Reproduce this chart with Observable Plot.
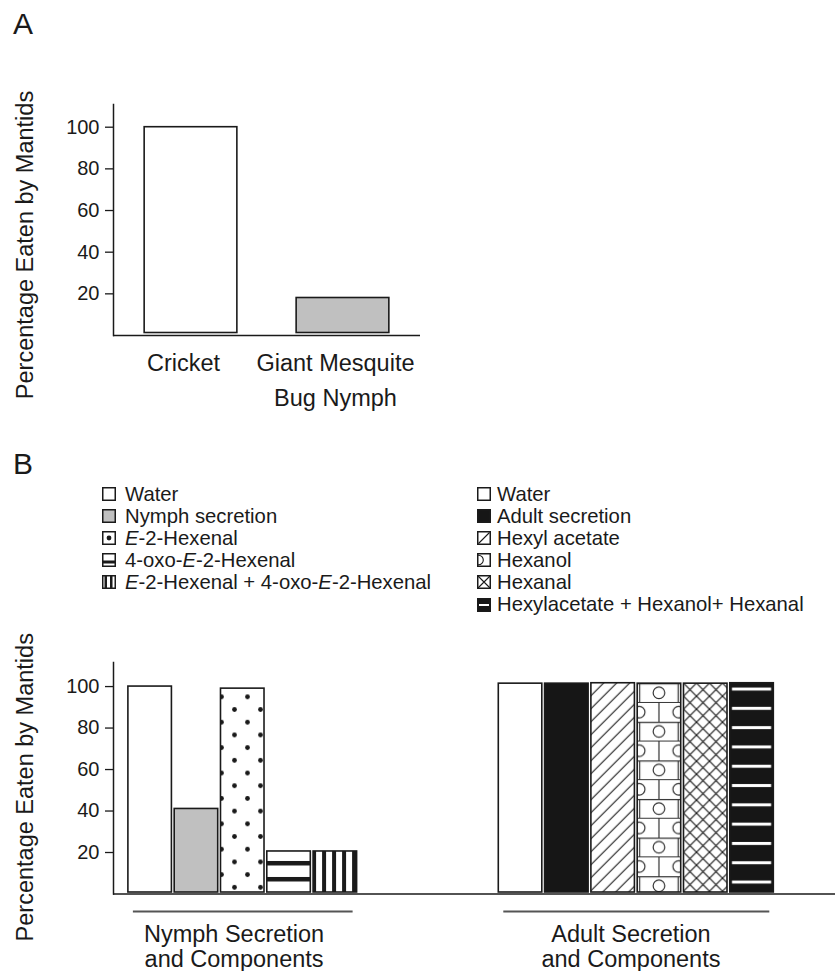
<!DOCTYPE html>
<html><head><meta charset="utf-8">
<script src="https://cdn.jsdelivr.net/npm/d3@7"></script>
<script src="https://cdn.jsdelivr.net/npm/@observablehq/plot@0.6"></script>
<style>
html,body{margin:0;padding:0;background:#fff;}
body{font-family:"Liberation Sans",Arial,Helvetica,sans-serif;color:#1a1a1a;}
#root{position:relative;width:835px;height:971px;overflow:hidden;background:#fff;}
.abs{position:absolute;}
.panel-label{font-size:30px;line-height:30px;}
.legend{font-size:20.3px;line-height:22.1px;}
.legend .row{display:flex;align-items:center;height:22.1px;white-space:nowrap;}
.legend svg{flex:none;display:block;}
</style></head>
<body><div id="root">
<div class="abs" id="chartA" style="left:0;top:0"></div>
<div class="abs" id="chartB" style="left:0;top:600px"></div>
<div class="abs panel-label" style="left:13px;top:9px">A</div>
<div class="abs panel-label" style="left:13px;top:449px">B</div>
<div class="abs legend" id="legendL" style="left:102px;top:482.5px"></div>
<div class="abs legend" id="legendR" style="left:477px;top:483px"></div>
</div>
<script>
// ---------------- data ----------------
const preyA = ["Cricket", "Giant Mesquite Bug Nymph"];
const preyALabels = ["Cricket", "Giant Mesquite\nBug Nymph"];
const eatenA = [100, 18];

const nymphTreatments = ["Water", "Nymph secretion", "E-2-Hexenal", "4-oxo-E-2-Hexenal", "E-2-Hexenal + 4-oxo-E-2-Hexenal"];
const nymphEaten = [100, 41, 99, 20.5, 20.5];
const adultTreatments = ["Water", "Adult secretion", "Hexyl acetate", "Hexanol", "Hexanal", "Hexylacetate + Hexanol+ Hexanal"];
const adultEaten = [101.4, 101.4, 101.6, 101.4, 101.4, 101.6];

const groupLabels = ["Nymph Secretion\nand Components", "Adult Secretion\nand Components"];
const yTicks = [20, 40, 60, 80, 100];
const yLabel = "Percentage Eaten by Mantids";

// ---------------- styles ----------------
const INK = "#1a1a1a";
const FONT = '"Liberation Sans", Arial, Helvetica, sans-serif';
const fillsA = ["#ffffff", "#c0c0c0"];
const nymphFills = ["#ffffff", "#c0c0c0", "url(#pat-dots)", "url(#pat-hbars)", "url(#pat-vbars)"];
const adultFills = ["#ffffff", "#161616", "url(#pat-diag)", "url(#pat-brick)", "url(#pat-cross)", "url(#pat-wlines)"];
const nymphIcons = ["white", "gray", "dot", "hbar", "vbar"];
const adultIcons = ["white", "black", "diag", "brick", "cross", "wline"];

// ---------------- panel A ----------------
const rowsA = preyA.map((p, i) => ({prey: p, label: preyALabels[i], value: eatenA[i], fill: fillsA[i]}));
const labelOfA = new Map(rowsA.map(d => [d.prey, d.label]));

const chartA = Plot.plot({
  width: 425, height: 400,
  marginTop: 104, marginBottom: 65, marginLeft: 113, marginRight: 5,
  style: {fontFamily: FONT, color: INK, background: "transparent", overflow: "visible"},
  x: {domain: preyA, paddingInner: 0.39, paddingOuter: 0.205, round: false},
  y: {domain: [0, 110.9]},
  color: {type: "identity"},
  marks: [
    Plot.barY(rowsA, {x: "prey", y: "value", fill: "fill", stroke: INK, strokeWidth: 1.6, insetBottom: 2.5}),
    Plot.ruleY([0], {stroke: INK, strokeWidth: 1.5}),
    Plot.frame({anchor: "left", stroke: INK, strokeWidth: 1.5}),
    Plot.axisY(yTicks, {tickSize: 8, tickPadding: 6, fontSize: 20, strokeWidth: 1.3, label: null}),
    Plot.axisX({tickSize: 0, tickPadding: 11, fontSize: 23.5, lineHeight: 1.49, dx: -7.5, label: null, tickFormat: d => labelOfA.get(d)}),
    Plot.text([yLabel], {frameAnchor: "left", textAnchor: "middle", rotate: -90, dx: -88, dy: 25, fontSize: 23.5})
  ]
});
document.getElementById("chartA").append(chartA);

// ---------------- panel B ----------------
const nymphKeys = nymphTreatments.map(t => "Nymph|" + t);
const adultKeys = adultTreatments.map(t => "Adult|" + t);
const spacers = ["gap-1", "gap-2", "gap-3"];
const slots = [...nymphKeys, ...spacers, ...adultKeys];
const rowsB = [
  ...nymphTreatments.map((t, i) => ({key: nymphKeys[i], value: nymphEaten[i], fill: nymphFills[i]})),
  ...adultTreatments.map((t, i) => ({key: adultKeys[i], value: adultEaten[i], fill: adultFills[i]}))
];
const groupsB = [
  {label: groupLabels[0], first: nymphKeys[0], last: nymphKeys[nymphKeys.length - 1], mid: nymphKeys[2]},
  {label: groupLabels[1], first: adultKeys[0], last: adultKeys[adultKeys.length - 1], mid: adultKeys[2]}
];

const chartB = Plot.plot({
  width: 835, height: 371,
  marginTop: 62, marginBottom: 77.5, marginLeft: 113, marginRight: 0,
  style: {fontFamily: FONT, color: INK, background: "transparent", overflow: "visible"},
  x: {domain: slots, range: [114, 787.2], paddingInner: 0.06, paddingOuter: 0.3, round: false, axis: null},
  y: {domain: [0, 111.6]},
  color: {type: "identity"},
  marks: [
    Plot.barY(rowsB, {x: "key", y: "value", fill: "fill", stroke: INK, strokeWidth: 1.6, insetBottom: 1.5}),
    Plot.ruleY([0], {stroke: INK, strokeWidth: 1.5}),
    Plot.frame({anchor: "left", stroke: INK, strokeWidth: 1.5}),
    Plot.axisY(yTicks, {tickSize: 8, tickPadding: 6, fontSize: 20, strokeWidth: 1.3, label: null}),
    Plot.ruleY(groupsB, {x1: "first", x2: "last", y: 0, dy: 17.5, stroke: "#555", strokeWidth: 1.8, insetLeft: 5, insetRight: 4}),
    Plot.text([groupsB[0]], {x: "mid", y: 0, text: "label", dy: 30, dx: -8.7, lineAnchor: "top", lineHeight: 1.06, fontSize: 23.5}),
    Plot.text([groupsB[1]], {x: "mid", y: 0, text: "label", dy: 30, dx: 17.8, lineAnchor: "top", lineHeight: 1.06, fontSize: 23.5}),
    Plot.text([yLabel], {frameAnchor: "left", textAnchor: "middle", rotate: -90, dx: -88, dy: 9, fontSize: 23.5})
  ]
});
document.getElementById("chartB").append(chartB);

// ---------------- fill patterns (anchored to bars via scales) ----------------
const xs = chartB.scale("x"), ys = chartB.scale("y");
const bw = xs.bandwidth;
const defs = d3.select(chartB).insert("defs", ":first-child");
function pattern(id, key, value, w, h, ox = 0, oy = 0) {
  return defs.append("pattern").attr("id", id).attr("patternUnits", "userSpaceOnUse")
    .attr("x", xs.apply(key) + ox).attr("y", ys.apply(value) + oy)
    .attr("width", w).attr("height", h);
}
// dots
{
  const p = pattern("pat-dots", nymphKeys[2], nymphEaten[2], 26, 25.4, -5.5, 2.35);
  p.append("rect").attr("width", 26).attr("height", 25.4).attr("fill", "#fff");
  p.append("circle").attr("cx", 6.5).attr("cy", 6.35).attr("r", 2.4).attr("fill", INK);
  p.append("circle").attr("cx", 19.5).attr("cy", 19.05).attr("r", 2.4).attr("fill", INK);
}
// horizontal thick bars
{
  const p = pattern("pat-hbars", nymphKeys[3], nymphEaten[3], 10, 16, 0, 0);
  p.append("rect").attr("width", 10).attr("height", 16).attr("fill", "#fff");
  p.append("rect").attr("y", 10).attr("width", 10).attr("height", 4.5).attr("fill", INK);
}
// vertical bars
{
  const p = pattern("pat-vbars", nymphKeys[4], nymphEaten[4], 10, 10, 9, 0);
  p.append("rect").attr("width", 10).attr("height", 10).attr("fill", "#fff");
  p.append("rect").attr("width", 4).attr("height", 10).attr("fill", INK);
}
// diagonal hatch
{
  const t = 13;
  const p = pattern("pat-diag", adultKeys[2], adultEaten[2], t, t, 0, 0);
  p.append("rect").attr("width", t).attr("height", t).attr("fill", "#fff");
  p.append("path").attr("d", `M0,${t}L${t},0M-2,2L2,-2M${t - 2},${t + 2}L${t + 2},${t - 2}`).attr("stroke", INK).attr("stroke-width", 1.1);
}
// brick with circles
{
  const h = 38.6, r = h / 2;
  const p = pattern("pat-brick", adultKeys[3], adultEaten[3], bw, h, 0, 0);
  p.append("rect").attr("width", bw).attr("height", h).attr("fill", "#fff");
  const g = p.append("g").attr("stroke", "#333").attr("stroke-width", 1.2).attr("fill", "#fff");
  g.append("path").attr("d", `M0,0.6H${bw}M0,${r}H${bw}M2.5,0V${r}M${bw - 2.5},0V${r}M${bw / 2},${r}V${h}`);
  g.append("circle").attr("cx", bw / 2).attr("cy", r / 2).attr("r", 5.8);
  g.append("circle").attr("cx", 2).attr("cy", r * 1.5).attr("r", 5.8);
  g.append("circle").attr("cx", bw - 2).attr("cy", r * 1.5).attr("r", 5.8);
}
// cross hatch
{
  const p = pattern("pat-cross", adultKeys[4], adultEaten[4], 13, 13, 0, 0);
  p.append("rect").attr("width", 13).attr("height", 13).attr("fill", "#fff");
  p.append("path").attr("d", "M0,0L13,13M13,0L0,13").attr("stroke", INK).attr("stroke-width", 1.2);
}
// black with white lines
{
  const p = pattern("pat-wlines", adultKeys[5], adultEaten[5], bw, 19.3, 0, 0);
  p.append("rect").attr("width", bw).attr("height", 19.3).attr("fill", "#161616");
  p.append("rect").attr("x", 2.2).attr("y", 4.8).attr("width", bw - 4.4).attr("height", 3).attr("fill", "#fff");
}

// ---------------- legend ----------------
function makeIcon(kind) {
  const s = 14;
  const svg = d3.create("svg").attr("width", s).attr("height", s);
  const clipId = "clip-" + Math.random().toString(36).slice(2);
  svg.append("clipPath").attr("id", clipId).append("rect").attr("width", s).attr("height", s);
  const bg = {white: "#fff", gray: "#c0c0c0", black: "#161616", wline: "#161616"}[kind] || "#fff";
  svg.append("rect").attr("x", 0.75).attr("y", 0.75).attr("width", s - 1.5).attr("height", s - 1.5).attr("fill", bg);
  const g = svg.append("g").attr("clip-path", `url(#${clipId})`);
  if (kind === "dot") g.append("circle").attr("cx", 7).attr("cy", 7).attr("r", 2.4).attr("fill", INK);
  if (kind === "hbar") g.append("rect").attr("x", 1).attr("y", 7.5).attr("width", 12).attr("height", 3).attr("fill", INK);
  if (kind === "vbar") {
    g.append("rect").attr("x", 2.5).attr("y", 1).attr("width", 2.5).attr("height", 12).attr("fill", INK);
    g.append("rect").attr("x", 8).attr("y", 1).attr("width", 2.5).attr("height", 12).attr("fill", INK);
  }
  if (kind === "diag") g.append("path").attr("d", "M1.5,12.5L12.5,1.5").attr("stroke", INK).attr("stroke-width", 1.1);
  if (kind === "brick") g.append("circle").attr("cx", 1.5).attr("cy", 7).attr("r", 4.8).attr("fill", "none").attr("stroke", INK).attr("stroke-width", 1.1);
  if (kind === "cross") g.append("path").attr("d", "M1,1L13,13M13,1L1,13").attr("stroke", INK).attr("stroke-width", 1.1);
  if (kind === "wline") g.append("rect").attr("x", 2).attr("y", 6).attr("width", 10).attr("height", 2).attr("fill", "#fff");
  svg.append("rect").attr("x", 0.75).attr("y", 0.75).attr("width", s - 1.5).attr("height", s - 1.5)
    .attr("fill", "none").attr("stroke", INK).attr("stroke-width", 1.5);
  return svg.node();
}
function fmtLabel(s) { return s.replace(/\bE-/g, "<i>E</i>-"); }
function buildLegend(el, labels, icons, gap) {
  labels.forEach((t, i) => {
    const row = document.createElement("div");
    row.className = "row";
    row.append(makeIcon(icons[i]));
    const span = document.createElement("span");
    span.style.marginLeft = gap + "px";
    span.innerHTML = fmtLabel(t);
    row.append(span);
    el.append(row);
  });
}
buildLegend(document.getElementById("legendL"), nymphTreatments, nymphIcons, 9);
buildLegend(document.getElementById("legendR"), adultTreatments, adultIcons, 6);
</script>
</body></html>
